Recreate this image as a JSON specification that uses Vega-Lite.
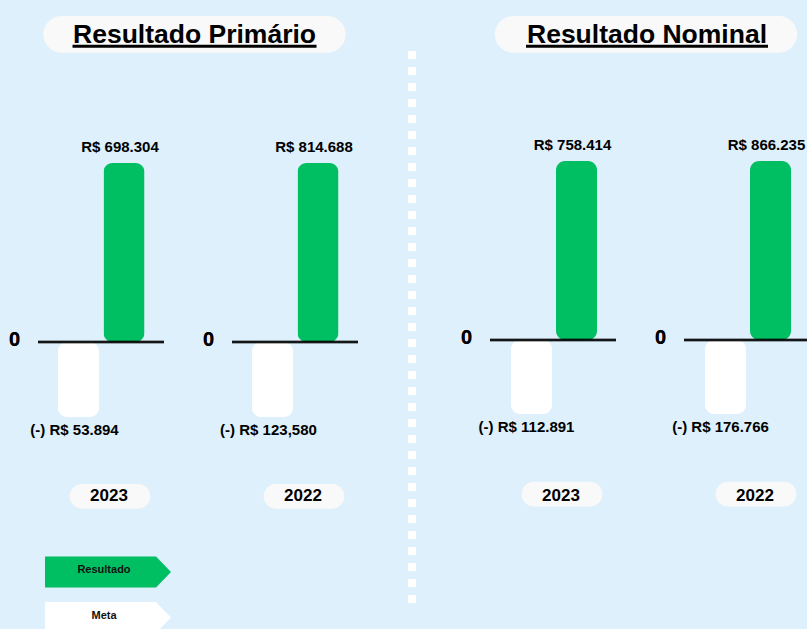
{
  "$schema": "https://vega.github.io/schema/vega-lite/v6.json",
  "background": "#DDF0FB",
  "padding": {"left": 0, "top": 12, "right": 0, "bottom": 0},
  "config": {"view": {"stroke": null}, "font": "Liberation Sans"},
  "datasets": {
    "resultados": [
      {"painel": "Resultado Primário", "ano": "2023", "tipo": "Resultado", "valor": 698304, "rotulo": "R$ 698.304"},
      {"painel": "Resultado Primário", "ano": "2023", "tipo": "Meta", "valor": -53894, "rotulo": "(-) R$ 53.894"},
      {"painel": "Resultado Primário", "ano": "2022", "tipo": "Resultado", "valor": 814688, "rotulo": "R$ 814.688"},
      {"painel": "Resultado Primário", "ano": "2022", "tipo": "Meta", "valor": -123580, "rotulo": "(-) R$ 123,580"},
      {"painel": "Resultado Nominal", "ano": "2023", "tipo": "Resultado", "valor": 758414, "rotulo": "R$ 758.414"},
      {"painel": "Resultado Nominal", "ano": "2023", "tipo": "Meta", "valor": -112891, "rotulo": "(-) R$ 112.891"},
      {"painel": "Resultado Nominal", "ano": "2022", "tipo": "Resultado", "valor": 866235, "rotulo": "R$ 866.235"},
      {"painel": "Resultado Nominal", "ano": "2022", "tipo": "Meta", "valor": -176766, "rotulo": "(-) R$ 176.766"}
    ]
  },
  "spacing": 0,
  "resolve": {"scale": {"xOffset": "independent"}},
  "hconcat": [
    {
      "spacing": 0,
      "bounds": "flush",
      "vconcat": [
        {
          "width": 396,
          "height": 147,
          "data": {"values": [{"painel": "Resultado Primário"}]},
          "encoding": {
            "x": {"field": "painel", "type": "nominal", "axis": null, "scale": {"type": "point", "padding": 0.1, "align": 0.4912}},
            "y": {"field": "painel", "type": "nominal", "axis": null, "scale": {"type": "point", "padding": 0.1, "align": 0.1248}}
          },
          "layer": [
            {"mark": {"type": "point", "shape": "M-0.8786,-0.1214L0.8786,-0.1214A0.1214,0.1214 0 0 1 0.8786,0.1214L-0.8786,0.1214A0.1214,0.1214 0 0 1 -0.8786,-0.1214Z", "size": 91446, "filled": true, "opacity": 1, "color": "#F9F9F9", "strokeWidth": 0}},
            {"mark": {"type": "point", "shape": "M-1,0.0861L1,0.0861L1,0.1107L-1,0.1107Z", "size": 59536, "filled": true, "opacity": 1, "color": "#000000", "strokeWidth": 0}},
            {"mark": {"type": "text", "align": "center", "baseline": "alphabetic", "dy": 8.5, "fontSize": 26.5, "fontWeight": "bold", "color": "#000000"}, "encoding": {"text": {"field": "painel"}}}
          ]
        },
        {
          "width": 396,
          "height": 254,
          "data": {"name": "resultados"},
          "transform": [{"filter": "datum.painel === 'Resultado Primário'"}],
          "encoding": {"x": {"field": "ano", "type": "nominal", "sort": ["2023", "2022"], "axis": null, "scale": {"type": "band", "paddingInner": 0.3505, "paddingOuter": 0.1959}}},
          "layer": [
            {
              "mark": {"type": "bar", "cornerRadius": 9},
              "encoding": {
                "xOffset": {"field": "tipo", "type": "nominal", "sort": ["Meta", "Resultado"], "scale": {"paddingInner": 0.0989, "paddingOuter": 0.434, "align": 0.506}},
                "y": {"field": "valor", "type": "quantitative", "axis": null, "scale": {"domain": [-30000, 71600], "clamp": true, "nice": false, "zero": false}},
                "color": {"field": "tipo", "type": "nominal", "scale": {"domain": ["Resultado", "Meta"], "range": ["#00BF63", "#FFFFFF"]}, "legend": null}
              }
            },
            {
              "mark": {"type": "tick", "orient": "horizontal", "size": 126, "thickness": 2.5, "color": "#000000"},
              "encoding": {"y": {"datum": 0, "type": "quantitative"}}
            },
            {
              "mark": {"type": "text", "text": "0", "dx": -86.5, "dy": 4, "baseline": "alphabetic", "align": "center", "fontSize": 20, "fontWeight": "bold", "color": "#000000"},
              "encoding": {"y": {"datum": 0, "type": "quantitative"}}
            },
            {
              "transform": [{"filter": "datum.valor > 0"}],
              "mark": {"type": "text", "baseline": "alphabetic", "align": "center", "dy": -11, "dx": -4, "fontSize": 15, "fontWeight": "bold", "color": "#000000"},
              "encoding": {
                "xOffset": {"field": "tipo", "type": "nominal", "sort": ["Meta", "Resultado"]},
                "y": {"field": "valor", "type": "quantitative"},
                "text": {"field": "rotulo"}
              }
            },
            {
              "transform": [{"filter": "datum.valor < 0"}],
              "mark": {"type": "text", "baseline": "alphabetic", "align": "center", "dy": 17.5, "dx": -4, "fontSize": 15, "fontWeight": "bold", "color": "#000000"},
              "encoding": {
                "xOffset": {"field": "tipo", "type": "nominal", "sort": ["Meta", "Resultado"]},
                "y": {"field": "valor", "type": "quantitative"},
                "text": {"field": "rotulo"}
              }
            }
          ]
        },
        {
          "width": 396,
          "height": 115,
          "data": {"name": "resultados"},
          "transform": [{"filter": "datum.painel === 'Resultado Primário' && datum.tipo === 'Resultado'"}],
          "encoding": {
            "x": {"field": "ano", "type": "nominal", "sort": ["2023", "2022"], "axis": null, "scale": {"type": "band", "paddingInner": 0.3505, "paddingOuter": 0.1959}},
            "y": {"field": "painel", "type": "nominal", "axis": null, "scale": {"type": "point", "padding": 0.1, "align": 0.69}}
          },
          "layer": [
            {"mark": {"type": "point", "shape": "M-0.694,-0.306L0.694,-0.306A0.306,0.306 0 0 1 0.694,0.306L-0.694,0.306A0.306,0.306 0 0 1 -0.694,-0.306Z", "size": 6512, "filled": true, "opacity": 1, "color": "#F9F9F9", "strokeWidth": 0, "xOffset": 9}},
            {"mark": {"type": "text", "align": "center", "baseline": "alphabetic", "dx": 8, "dy": 4.3, "fontSize": 17, "fontWeight": "bold", "color": "#000000"}, "encoding": {"text": {"field": "ano"}}}
          ]
        },
        {
          "width": 216,
          "height": 97,
          "data": {"values": [{"tipo": "Resultado"}, {"tipo": "Meta"}]},
          "encoding": {"y": {"field": "tipo", "type": "nominal", "sort": ["Resultado", "Meta"], "axis": null, "scale": {"type": "point", "padding": 0.5636, "align": 0.778}}},
          "layer": [
            {
              "mark": {"type": "point", "shape": "M-1,-0.246L0.762,-0.246L1,0L0.762,0.246L-1,0.246Z", "size": 15876, "filled": true, "opacity": 1, "strokeWidth": 0, "clip": true},
              "encoding": {"color": {"field": "tipo", "type": "nominal", "scale": {"domain": ["Resultado", "Meta"], "range": ["#00BF63", "#FFFFFF"]}, "legend": null}}
            },
            {
              "mark": {"type": "text", "align": "center", "baseline": "alphabetic", "dx": -4, "dy": 1.5, "fontSize": 11, "fontWeight": "bold", "color": "#111111"},
              "encoding": {"text": {"field": "tipo"}}
            }
          ]
        }
      ]
    },
    {
      "width": 32,
      "height": 587,
      "data": {"values": [{"divisor": "linha"}]},
      "mark": {"type": "rule", "color": "#FFFFFF", "strokeWidth": 8, "strokeDash": [0, 35, 8, 8, 8, 8, 8, 8, 8, 8, 8, 8, 8, 8, 8, 8, 8, 8, 8, 8, 8, 8, 8, 8, 8, 8, 8, 8, 8, 8, 8, 8, 8, 8, 8, 8, 8, 8, 8, 8, 8, 8, 8, 8, 8, 8, 8, 8, 8, 8, 8, 8, 8, 8, 8, 8, 8, 8, 8, 8, 8, 8, 8, 8, 8, 8, 8, 8, 8, 8, 8, 8]},
      "encoding": {"x": {"field": "divisor", "type": "nominal", "axis": null}}
    },
    {
      "spacing": 0,
      "bounds": "flush",
      "vconcat": [
        {
          "width": 379,
          "height": 145,
          "data": {"values": [{"painel": "Resultado Nominal"}]},
          "encoding": {
            "x": {"field": "painel", "type": "nominal", "axis": null, "scale": {"type": "point", "padding": 0.1, "align": 0.5752}},
            "y": {"field": "painel", "type": "nominal", "axis": null, "scale": {"type": "point", "padding": 0.1, "align": 0.1266}}
          },
          "layer": [
            {"mark": {"type": "point", "shape": "M-0.8786,-0.1214L0.8786,-0.1214A0.1214,0.1214 0 0 1 0.8786,0.1214L-0.8786,0.1214A0.1214,0.1214 0 0 1 -0.8786,-0.1214Z", "size": 91446, "filled": true, "opacity": 1, "color": "#F9F9F9", "strokeWidth": 0}},
            {"mark": {"type": "point", "shape": "M-1,0.0861L1,0.0861L1,0.1107L-1,0.1107Z", "size": 58564, "filled": true, "opacity": 1, "color": "#000000", "strokeWidth": 0, "xOffset": 1}},
            {"mark": {"type": "text", "align": "center", "baseline": "alphabetic", "dx": 1, "dy": 8.5, "fontSize": 26.5, "fontWeight": "bold", "color": "#000000"}, "encoding": {"text": {"field": "painel"}}}
          ]
        },
        {
          "width": 379,
          "height": 253,
          "data": {"name": "resultados"},
          "transform": [{"filter": "datum.painel === 'Resultado Nominal'"}],
          "encoding": {"x": {"field": "ano", "type": "nominal", "sort": ["2023", "2022"], "axis": null, "scale": {"type": "band", "paddingInner": 0.366, "paddingOuter": 0.1598, "align": 1}}},
          "layer": [
            {
              "mark": {"type": "bar", "cornerRadius": 9},
              "encoding": {
                "xOffset": {"field": "tipo", "type": "nominal", "sort": ["Meta", "Resultado"], "scale": {"paddingInner": 0.0889, "paddingOuter": 0.411, "align": 0.5676}},
                "y": {"field": "valor", "type": "quantitative", "axis": null, "scale": {"domain": [-30000, 72700], "clamp": true, "nice": false, "zero": false}},
                "color": {"field": "tipo", "type": "nominal", "scale": {"domain": ["Resultado", "Meta"], "range": ["#00BF63", "#FFFFFF"]}, "legend": null}
              }
            },
            {
              "mark": {"type": "tick", "orient": "horizontal", "size": 126, "thickness": 2.5, "color": "#000000", "xOffset": 1.5, "clip": true},
              "encoding": {"y": {"datum": 0, "type": "quantitative"}}
            },
            {
              "mark": {"type": "text", "text": "0", "dx": -85, "dy": 4, "baseline": "alphabetic", "align": "center", "fontSize": 20, "fontWeight": "bold", "color": "#000000"},
              "encoding": {"y": {"datum": 0, "type": "quantitative"}}
            },
            {
              "transform": [{"filter": "datum.valor > 0"}],
              "mark": {"type": "text", "baseline": "alphabetic", "align": "center", "dy": -11, "dx": -4, "fontSize": 15, "fontWeight": "bold", "color": "#000000"},
              "encoding": {
                "xOffset": {"field": "tipo", "type": "nominal", "sort": ["Meta", "Resultado"]},
                "y": {"field": "valor", "type": "quantitative"},
                "text": {"field": "rotulo"}
              }
            },
            {
              "transform": [{"filter": "datum.valor < 0"}],
              "mark": {"type": "text", "baseline": "alphabetic", "align": "center", "dy": 17.5, "dx": -5, "fontSize": 15, "fontWeight": "bold", "color": "#000000"},
              "encoding": {
                "xOffset": {"field": "tipo", "type": "nominal", "sort": ["Meta", "Resultado"]},
                "y": {"field": "valor", "type": "quantitative"},
                "text": {"field": "rotulo"}
              }
            }
          ]
        },
        {
          "width": 379,
          "height": 100,
          "data": {"name": "resultados"},
          "transform": [{"filter": "datum.painel === 'Resultado Nominal' && datum.tipo === 'Resultado'"}],
          "encoding": {
            "x": {"field": "ano", "type": "nominal", "sort": ["2023", "2022"], "axis": null, "scale": {"type": "band", "paddingInner": 0.366, "paddingOuter": 0.1598, "align": 1}},
            "y": {"field": "painel", "type": "nominal", "axis": null, "scale": {"type": "point", "padding": 0.1, "align": 0.802}}
          },
          "layer": [
            {"mark": {"type": "point", "shape": "M-0.694,-0.306L0.694,-0.306A0.306,0.306 0 0 1 0.694,0.306L-0.694,0.306A0.306,0.306 0 0 1 -0.694,-0.306Z", "size": 6512, "filled": true, "opacity": 1, "color": "#F9F9F9", "strokeWidth": 0, "xOffset": 10.5}},
            {"mark": {"type": "text", "align": "center", "baseline": "alphabetic", "dx": 9.5, "dy": 6.3, "fontSize": 17, "fontWeight": "bold", "color": "#000000"}, "encoding": {"text": {"field": "ano"}}}
          ]
        }
      ]
    }
  ]
}
